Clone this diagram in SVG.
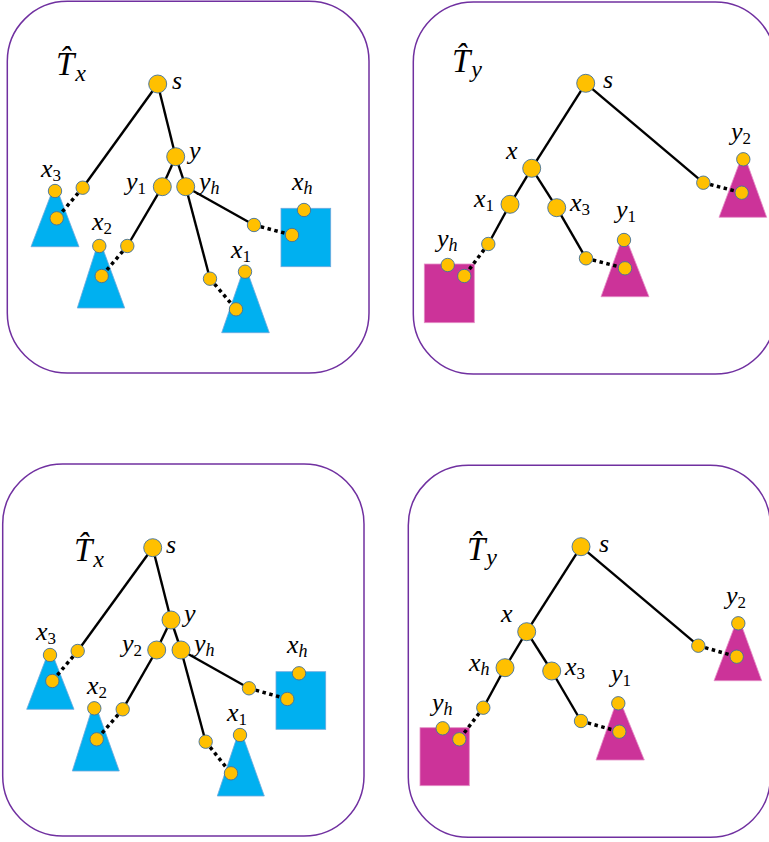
<svg xmlns="http://www.w3.org/2000/svg" width="769" height="842" viewBox="0 0 769 842">
<style>
.box{fill:none;stroke:#7030A0;stroke-width:1.5}
.e{stroke:#000;stroke-width:2.4;fill:none}
.d{stroke:#000;stroke-width:3.5;stroke-dasharray:3.5 3.5;fill:none}
.big{fill:#FFC000;stroke:#41719C;stroke-width:0.9}
.sm{fill:#FFC000;stroke:#41719C;stroke-width:0.9}
.blue{fill:#00B0F0;stroke:#6FA8DC;stroke-width:0.8}
.mag{fill:#CC3399;stroke:#E58FC6;stroke-width:0.8}
text{font-family:"Liberation Serif","DejaVu Serif",serif;font-style:italic;fill:#000}
.lb{font-size:26px}
.tt{font-size:33px}
.ts{font-size:24px}
.sb{font-size:17px;font-style:normal}
.si{font-size:18px}
</style>

<!-- Panel boxes -->
<g id="panel-tl"><rect class="box" x="7.3" y="1.3" width="361.7" height="371.7" rx="60"/></g>
<g id="panel-tr"><rect class="box" x="413.3" y="2" width="362" height="372" rx="60"/></g>
<g id="panel-bl"><rect class="box" x="2.7" y="464" width="361.3" height="372" rx="60"/></g>
<g id="panel-br"><rect class="box" x="408.3" y="465.3" width="362" height="372" rx="60"/></g>

<!-- Subtree shapes -->
<g id="tl-x3-tree"><polygon class="blue" points="55,184 31,246.7 79,246.7"/></g>
<g id="tl-x2-tree"><polygon class="blue" points="99.3,239 77.3,308 124.7,308"/></g>
<g id="tl-x1-tree"><polygon class="blue" points="245,265 221.7,332.7 269.3,332.7"/></g>
<g id="tl-xh-tree"><rect class="blue" x="281" y="208.3" width="49.7" height="58.4"/></g>

<g id="tr-yh-tree"><rect class="mag" x="424.3" y="264" width="50" height="58.7"/></g>
<g id="tr-y1-tree"><polygon class="mag" points="624,233 601,296.7 649,296.7"/></g>
<g id="tr-y2-tree"><polygon class="mag" points="743.3,152.5 719,217.3 766.7,217.3"/></g>

<g id="bl-x3-tree"><polygon class="blue" points="50,648 26.7,709.3 74,709.3"/></g>
<g id="bl-x2-tree"><polygon class="blue" points="94.3,701.5 72.3,771 119.3,771"/></g>
<g id="bl-x1-tree"><polygon class="blue" points="240,728 217.3,796 264.3,796"/></g>
<g id="bl-xh-tree"><rect class="blue" x="276" y="671.7" width="49.7" height="57.6"/></g>

<g id="br-yh-tree"><rect class="mag" x="420" y="727.7" width="49.3" height="58"/></g>
<g id="br-y1-tree"><polygon class="mag" points="618.3,696.5 596,760 644.3,760"/></g>
<g id="br-y2-tree"><polygon class="mag" points="738.3,616.5 714,680.7 761.7,680.7"/></g>

<!-- Connectors -->
<g id="connectors">
  <!-- top-left -->
  <line class="e" x1="157.7" y1="84" x2="82.7" y2="187.7"/>
  <line class="e" x1="157.7" y1="84" x2="175.7" y2="156.7"/>
  <line class="e" x1="175.7" y1="156.7" x2="162.3" y2="186.7"/>
  <line class="e" x1="175.7" y1="156.7" x2="185.7" y2="186.7"/>
  <line class="e" x1="162.3" y1="186.7" x2="127.3" y2="246"/>
  <line class="e" x1="185.7" y1="186.7" x2="210" y2="278.7"/>
  <line class="e" x1="185.7" y1="186.7" x2="254" y2="225"/>
  <line class="d" x1="82.7" y1="187.7" x2="56.7" y2="218.3"/>
  <line class="d" x1="127.3" y1="246" x2="101.7" y2="276"/>
  <line class="d" x1="210" y1="278.7" x2="236" y2="309.3"/>
  <line class="d" x1="254" y1="225" x2="292" y2="235"/>
  <!-- top-right -->
  <line class="e" x1="585.7" y1="83.3" x2="531.7" y2="168.3"/>
  <line class="e" x1="585.7" y1="83.3" x2="703.3" y2="182.7"/>
  <line class="e" x1="531.7" y1="168.3" x2="510" y2="204.3"/>
  <line class="e" x1="531.7" y1="168.3" x2="556.7" y2="207.7"/>
  <line class="e" x1="510" y1="204.3" x2="488.3" y2="244"/>
  <line class="e" x1="556.7" y1="207.7" x2="586" y2="258.3"/>
  <line class="d" x1="488.3" y1="244" x2="464.3" y2="276"/>
  <line class="d" x1="586" y1="258.3" x2="625" y2="268.3"/>
  <line class="d" x1="703.3" y1="182.7" x2="741.7" y2="192.7"/>
  <!-- bottom-left -->
  <line class="e" x1="152.7" y1="547.7" x2="77.7" y2="651"/>
  <line class="e" x1="152.7" y1="547.7" x2="171" y2="620"/>
  <line class="e" x1="171" y1="620" x2="156.7" y2="650"/>
  <line class="e" x1="171" y1="620" x2="181" y2="650"/>
  <line class="e" x1="156.7" y1="650" x2="122.7" y2="709.3"/>
  <line class="e" x1="181" y1="650" x2="205.7" y2="741.7"/>
  <line class="e" x1="181" y1="650" x2="249" y2="688.3"/>
  <line class="d" x1="77.7" y1="651" x2="52.3" y2="681"/>
  <line class="d" x1="122.7" y1="709.3" x2="96.7" y2="739.3"/>
  <line class="d" x1="205.7" y1="741.7" x2="231" y2="773.3"/>
  <line class="d" x1="249" y1="688.3" x2="287.3" y2="699"/>
  <!-- bottom-right -->
  <line class="e" x1="581" y1="546.7" x2="526.7" y2="631.7"/>
  <line class="e" x1="581" y1="546.7" x2="698.3" y2="645.7"/>
  <line class="e" x1="526.7" y1="631.7" x2="505" y2="667.7"/>
  <line class="e" x1="526.7" y1="631.7" x2="551.7" y2="671"/>
  <line class="e" x1="505" y1="667.7" x2="483.3" y2="707.7"/>
  <line class="e" x1="551.7" y1="671" x2="581" y2="721"/>
  <line class="d" x1="483.3" y1="707.7" x2="459.3" y2="739.3"/>
  <line class="d" x1="581" y1="721" x2="619.3" y2="731.7"/>
  <line class="d" x1="698.3" y1="645.7" x2="736.7" y2="656.7"/>
</g>

<!-- Top-left nodes -->
<g id="tl-title"><text class="tt" x="56" y="75">T̂<tspan class="ts" dx="1" dy="6">x</tspan></text></g>
<g id="tl-s"><circle class="big" cx="157.7" cy="84" r="9"/><text class="lb" x="172" y="89">s</text></g>
<g id="tl-y"><circle class="big" cx="175.7" cy="156.7" r="9"/><text class="lb" x="189" y="159">y</text></g>
<g id="tl-y1"><circle class="big" cx="162.3" cy="186.7" r="9"/><text class="lb" x="126" y="190">y<tspan class="sb" dy="4">1</tspan></text></g>
<g id="tl-yh"><circle class="big" cx="185.7" cy="186.7" r="9"/><text class="lb" x="199" y="190">y<tspan class="si" dy="4">h</tspan></text></g>
<g id="tl-a1"><circle class="sm" cx="82.7" cy="187.7" r="6.7"/></g>
<g id="tl-a2"><circle class="sm" cx="127.3" cy="246" r="6.7"/></g>
<g id="tl-a3"><circle class="sm" cx="210" cy="278.7" r="6.7"/></g>
<g id="tl-a4"><circle class="sm" cx="254" cy="225" r="6.7"/></g>
<g id="tl-x3"><circle class="sm" cx="55" cy="191" r="6.7"/><circle class="sm" cx="56.7" cy="218.3" r="6.7"/><text class="lb" x="41" y="177">x<tspan class="sb" dy="4">3</tspan></text></g>
<g id="tl-x2"><circle class="sm" cx="99.3" cy="246" r="6.7"/><circle class="sm" cx="101.7" cy="276" r="6.7"/><text class="lb" x="92" y="230">x<tspan class="sb" dy="4">2</tspan></text></g>
<g id="tl-x1"><circle class="sm" cx="245" cy="271.7" r="6.7"/><circle class="sm" cx="236" cy="309.3" r="6.7"/><text class="lb" x="231" y="258">x<tspan class="sb" dy="4">1</tspan></text></g>
<g id="tl-xh"><circle class="sm" cx="304" cy="210" r="6.7"/><circle class="sm" cx="292" cy="235" r="6.7"/><text class="lb" x="292" y="190">x<tspan class="si" dy="4">h</tspan></text></g>

<!-- Top-right nodes -->
<g id="tr-title"><text class="tt" x="452" y="72">T̂<tspan class="ts" dx="1" dy="5">y</tspan></text></g>
<g id="tr-s"><circle class="big" cx="585.7" cy="83.3" r="9"/><text class="lb" x="603" y="88">s</text></g>
<g id="tr-x"><circle class="big" cx="531.7" cy="168.3" r="9"/><text class="lb" x="506" y="159">x</text></g>
<g id="tr-x1"><circle class="big" cx="510" cy="204.3" r="9"/><text class="lb" x="474" y="207">x<tspan class="sb" dy="4">1</tspan></text></g>
<g id="tr-x3"><circle class="big" cx="556.7" cy="207.7" r="9"/><text class="lb" x="570" y="211">x<tspan class="sb" dy="4">3</tspan></text></g>
<g id="tr-b1"><circle class="sm" cx="488.3" cy="244" r="6.7"/></g>
<g id="tr-b2"><circle class="sm" cx="586" cy="258.3" r="6.7"/></g>
<g id="tr-b3"><circle class="sm" cx="703.3" cy="182.7" r="6.7"/></g>
<g id="tr-yh"><circle class="sm" cx="447.7" cy="265" r="6.7"/><circle class="sm" cx="464.3" cy="276" r="6.7"/><text class="lb" x="437" y="247">y<tspan class="si" dy="4">h</tspan></text></g>
<g id="tr-y1"><circle class="sm" cx="624" cy="240" r="6.7"/><circle class="sm" cx="625" cy="268.3" r="6.7"/><text class="lb" x="616" y="218">y<tspan class="sb" dy="4">1</tspan></text></g>
<g id="tr-y2"><circle class="sm" cx="743.3" cy="159.3" r="6.7"/><circle class="sm" cx="741.7" cy="192.7" r="6.7"/><text class="lb" x="731" y="140">y<tspan class="sb" dy="4">2</tspan></text></g>

<!-- Bottom-left nodes -->
<g id="bl-title"><text class="tt" x="74" y="561">T̂<tspan class="ts" dx="1" dy="6">x</tspan></text></g>
<g id="bl-s"><circle class="big" cx="152.7" cy="547.7" r="9"/><text class="lb" x="166" y="553">s</text></g>
<g id="bl-y"><circle class="big" cx="171" cy="620" r="9"/><text class="lb" x="184" y="622">y</text></g>
<g id="bl-y2"><circle class="big" cx="156.7" cy="650" r="9"/><text class="lb" x="122" y="652">y<tspan class="sb" dy="4">2</tspan></text></g>
<g id="bl-yh"><circle class="big" cx="181" cy="650" r="9"/><text class="lb" x="194" y="652">y<tspan class="si" dy="4">h</tspan></text></g>
<g id="bl-c1"><circle class="sm" cx="77.7" cy="651" r="6.7"/></g>
<g id="bl-c2"><circle class="sm" cx="122.7" cy="709.3" r="6.7"/></g>
<g id="bl-c3"><circle class="sm" cx="205.7" cy="741.7" r="6.7"/></g>
<g id="bl-c4"><circle class="sm" cx="249" cy="688.3" r="6.7"/></g>
<g id="bl-x3"><circle class="sm" cx="50" cy="655" r="6.7"/><circle class="sm" cx="52.3" cy="681" r="6.7"/><text class="lb" x="36" y="640">x<tspan class="sb" dy="4">3</tspan></text></g>
<g id="bl-x2"><circle class="sm" cx="94.3" cy="708.3" r="6.7"/><circle class="sm" cx="96.7" cy="739.3" r="6.7"/><text class="lb" x="87" y="694">x<tspan class="sb" dy="4">2</tspan></text></g>
<g id="bl-x1"><circle class="sm" cx="240" cy="735" r="6.7"/><circle class="sm" cx="231" cy="773.3" r="6.7"/><text class="lb" x="227" y="721">x<tspan class="sb" dy="4">1</tspan></text></g>
<g id="bl-xh"><circle class="sm" cx="299" cy="673.3" r="6.7"/><circle class="sm" cx="287.3" cy="699" r="6.7"/><text class="lb" x="287" y="653">x<tspan class="si" dy="4">h</tspan></text></g>

<!-- Bottom-right nodes -->
<g id="br-title"><text class="tt" x="467" y="560">T̂<tspan class="ts" dx="1" dy="5">y</tspan></text></g>
<g id="br-s"><circle class="big" cx="581" cy="546.7" r="9"/><text class="lb" x="599" y="552">s</text></g>
<g id="br-x"><circle class="big" cx="526.7" cy="631.7" r="9"/><text class="lb" x="501" y="622">x</text></g>
<g id="br-xh"><circle class="big" cx="505" cy="667.7" r="9"/><text class="lb" x="469" y="671">x<tspan class="si" dy="4">h</tspan></text></g>
<g id="br-x3"><circle class="big" cx="551.7" cy="671" r="9"/><text class="lb" x="565" y="675">x<tspan class="sb" dy="4">3</tspan></text></g>
<g id="br-d1"><circle class="sm" cx="483.3" cy="707.7" r="6.7"/></g>
<g id="br-d2"><circle class="sm" cx="581" cy="721" r="6.7"/></g>
<g id="br-d3"><circle class="sm" cx="698.3" cy="645.7" r="6.7"/></g>
<g id="br-yh"><circle class="sm" cx="442.7" cy="728.3" r="6.7"/><circle class="sm" cx="459.3" cy="739.3" r="6.7"/><text class="lb" x="432" y="711">y<tspan class="si" dy="4">h</tspan></text></g>
<g id="br-y1"><circle class="sm" cx="618.3" cy="703.3" r="6.7"/><circle class="sm" cx="619.3" cy="731.7" r="6.7"/><text class="lb" x="611" y="682">y<tspan class="sb" dy="4">1</tspan></text></g>
<g id="br-y2"><circle class="sm" cx="738.3" cy="623.3" r="6.7"/><circle class="sm" cx="736.7" cy="656.7" r="6.7"/><text class="lb" x="726" y="604">y<tspan class="sb" dy="4">2</tspan></text></g>
</svg>
